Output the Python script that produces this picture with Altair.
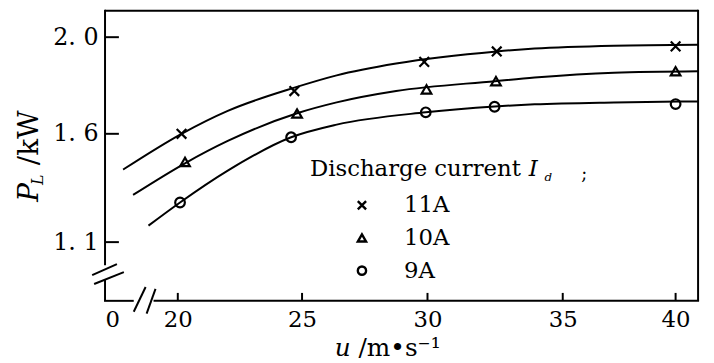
import altair as alt
import pandas as pd

# ---------------- data ----------------
series_names = ["11A", "10A", "9A"]

# measured points (markers)
marker_u_11 = [20.15, 24.69, 29.87, 32.56, 40.0]
marker_p_11 = [1.600, 1.777, 1.898, 1.941, 1.962]
marker_u_10 = [20.29, 24.80, 29.96, 32.53, 40.0]
marker_p_10 = [1.470, 1.684, 1.784, 1.818, 1.859]
marker_u_9 = [20.09, 24.56, 29.93, 32.48, 40.0]
marker_p_9 = [1.283, 1.584, 1.689, 1.712, 1.723]

# fitted curves
curve_u_11 = [17.80, 20.15, 22.01, 24.69, 26.38, 28.75, 32.56, 33.96, 37.27, 41.0]
curve_p_11 = [1.435, 1.600, 1.695, 1.791, 1.842, 1.891, 1.941, 1.953, 1.965, 1.969]
curve_u_10 = [18.20, 20.29, 22.01, 24.80, 26.38, 28.75, 32.50, 33.96, 37.27, 41.0]
curve_p_10 = [1.318, 1.464, 1.567, 1.685, 1.730, 1.777, 1.818, 1.833, 1.853, 1.859]
curve_u_9 = [18.82, 20.09, 22.01, 24.56, 26.38, 29.93, 32.48, 33.96, 37.27, 41.0]
curve_p_9 = [1.176, 1.283, 1.430, 1.584, 1.638, 1.689, 1.713, 1.722, 1.730, 1.734]

x_tick_labels_values = [0, 20, 25, 30, 35, 40]
x_tick_mark_values = [20, 25, 30, 35, 40]
y_tick_values = [1.1, 1.6, 2.0]

# ---------------- tables ----------------
marker_df = pd.concat([
    pd.DataFrame({"u": marker_u_11, "p": marker_p_11, "series": "11A"}),
    pd.DataFrame({"u": marker_u_10, "p": marker_p_10, "series": "10A"}),
    pd.DataFrame({"u": marker_u_9, "p": marker_p_9, "series": "9A"}),
], ignore_index=True)
curve_df = pd.concat([
    pd.DataFrame({"u": curve_u_11, "p": curve_p_11, "series": "11A"}),
    pd.DataFrame({"u": curve_u_10, "p": curve_p_10, "series": "10A"}),
    pd.DataFrame({"u": curve_u_9, "p": curve_p_9, "series": "9A"}),
], ignore_index=True)

W, H = 599, 294
SERIF = "DejaVu Serif"

# broken axes drawn as piecewise-linear scales (as on the original figure)
x_scale = alt.Scale(domain=[0, 17.43, 20, 25, 30, 35, 40, 41.0],
                    range=[0, 9, 73.5, 199, 325.7, 462.3, 576.3, W],
                    nice=False, zero=False)
y_scale = alt.Scale(domain=[0.829, 1.1, 1.6, 2.0, 2.1135],
                    range=[H, 234.7, 125.3, 27.7, 0],
                    nice=False, zero=False)

x_axis = alt.Axis(values=x_tick_labels_values, title=None, domain=False, ticks=False,
                  tickSize=0, grid=False, labelFont=SERIF, labelFontSize=23,
                  labelColor="black", labelPadding=8, labelFlush=True,
                  labelOverlap=False)
y_axis = alt.Axis(values=y_tick_values, title=None, domain=False, ticks=False,
                  tickSize=0, grid=False, labelFont=SERIF, labelFontSize=24,
                  labelColor="black", labelPadding=7,
                  labelExpr="replace(format(datum.value, '.1f'), '.', '. ')")

X = alt.X("u:Q", scale=x_scale, axis=x_axis)
Y = alt.Y("p:Q", scale=y_scale, axis=y_axis)

lines = alt.Chart(curve_df).mark_line(
    interpolate="monotone", color="black", strokeWidth=2
).encode(x=X, y=Y, detail="series:N")

shape_range = ["M-1,-1L1,1M-1,1L1,-1", "triangle-up", "circle"]
points = alt.Chart(marker_df).mark_point(
    filled=False, color="black", strokeWidth=2.2, opacity=1, size=95
).encode(
    x=X, y=Y,
    shape=alt.Shape("series:N",
                    scale=alt.Scale(domain=series_names, range=shape_range),
                    legend=alt.Legend(orient="none", legendX=248, legendY=186,
                                      title=None, padding=0,
                                      labelFont=SERIF, labelFontSize=23,
                                      labelColor="black", labelOffset=31,
                                      symbolSize=70, symbolStrokeWidth=2.4,
                                      symbolStrokeColor="black",
                                      symbolFillColor="white",
                                      symbolOpacity=1,
                                      rowPadding=9)),
)

xticks = alt.Chart(pd.DataFrame({"u": x_tick_mark_values})).mark_rule(
    color="black", strokeWidth=2
).encode(x=X, y=alt.value(H), y2=alt.value(H - 8))
yticks = alt.Chart(pd.DataFrame({"p": y_tick_values})).mark_rule(
    color="black", strokeWidth=2
).encode(y=Y, x=alt.value(0), x2=alt.value(14))

dummy = pd.DataFrame({"k": [0]})


def seg(x1, y1, x2, y2, w=2):
    return alt.Chart(dummy).mark_rule(color="black", strokeWidth=w).encode(
        x=alt.value(x1), y=alt.value(y1), x2=alt.value(x2), y2=alt.value(y2))


def txt(s, x, y, size, style="normal", angle=0, weight="normal"):
    props = dict(text=s, align="left", baseline="alphabetic", font=SERIF,
                 fontSize=size, fontStyle=style, color="black", fontWeight=weight)
    if angle:
        props["angle"] = angle
    return alt.Chart(dummy).mark_text(**props).encode(x=alt.value(x), y=alt.value(y))


frame = [
    seg(0, 1, W, 1),            # top
    seg(W, 0, W, H),            # right
    seg(0, 0, 0, 258),          # left upper part
    seg(0, 272, 0, H),          # left lower part
    seg(-1, H, 29, H),          # bottom left piece
    seg(49, H, W + 1, H),       # bottom main
    seg(-13, 268, 12, 257),     # y break slashes
    seg(-11, 277, 19, 265),
    seg(29, 305, 41, 280),      # x break slashes
    seg(42, 307, 51, 282),
]

texts = [
    # legend heading
    txt("Discharge current", 207, 168, 23),
    txt("I", 428, 168, 23, style="italic"),
    txt("d", 444, 173, 12, style="italic"),
    txt(";", 481, 172, 18),
    # y title
    txt("P", -68, 194, 28, style="italic", angle=270),
    txt("L", -63, 177, 16, style="italic", angle=270),
    txt("/kW", -68, 157, 28, angle=270),
    # x title
    txt("u", 232, 350, 25, style="italic"),
    txt("/m\u2022s\u207b\u00b9", 256, 350, 25),
]

chart = alt.layer(lines, points, xticks, yticks, *frame, *texts).properties(
    width=W, height=H,
    autosize=alt.AutoSizeParams(type="none"),
    padding={"left": 98, "top": 0, "right": 8, "bottom": 60},
    background="white",
).configure_view(stroke=None)

chart.save("out.html", embed_options={"renderer": "svg", "actions": False})
